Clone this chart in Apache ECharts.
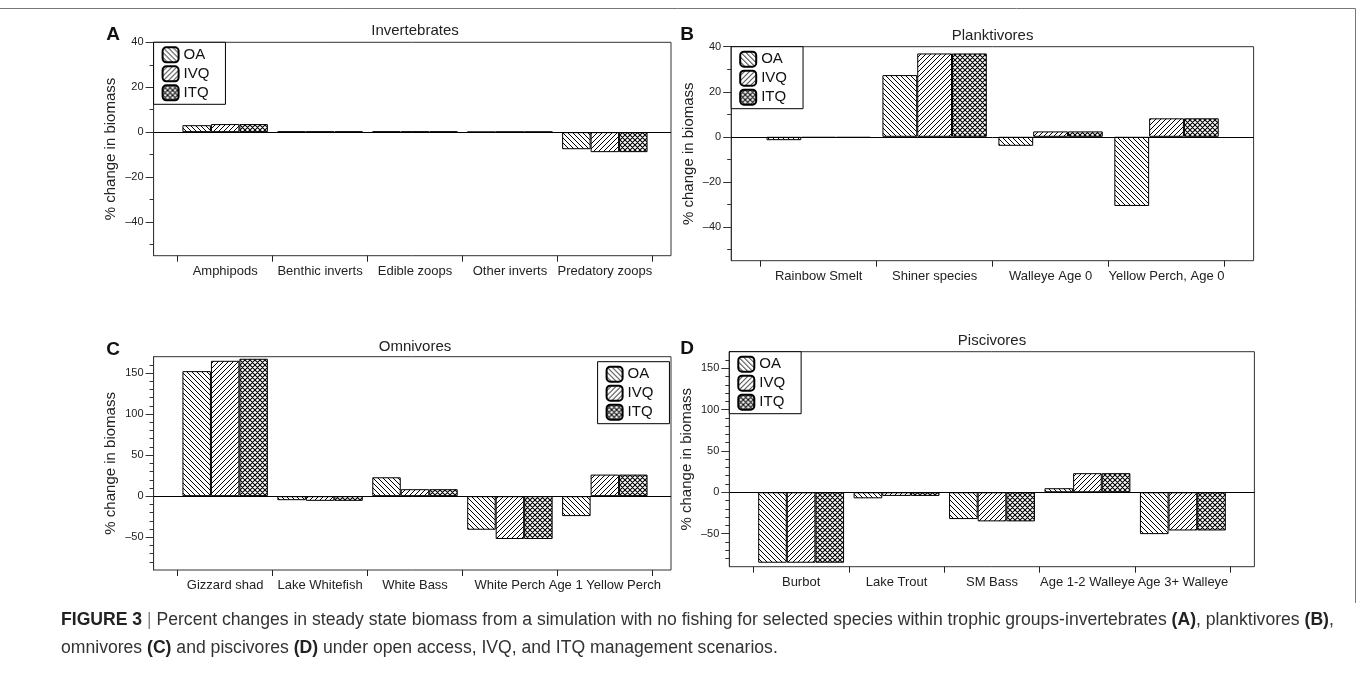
<!DOCTYPE html>
<html>
<head>
<meta charset="utf-8">
<script src="https://cdn.jsdelivr.net/npm/echarts@6/dist/echarts.min.js"></script>
<style>
  html, body { margin: 0; padding: 0; background: #fff; }
  #chart { width: 1358px; height: 681px; }
</style>
</head>
<body>
<div id="chart"></div>
<script>
// data
const seriesNames = ['OA', 'IVQ', 'ITQ'];

const catsA = ['Amphipods', 'Benthic inverts', 'Edible zoops', 'Other inverts', 'Predatory zoops'];
const oaA = [3.1, 0.3, 0.3, 0.1, -7.6];
const ivqA = [3.6, 0.3, 0.3, 0.2, -8.9];
const itqA = [3.6, 0.3, 0.3, 0.2, -8.9];

const catsB = ['Rainbow Smelt', 'Shiner species', 'Walleye Age 0', 'Yellow Perch, Age 0'];
const oaB = [-1.5, 27.4, -4.0, -30.7];
const ivqB = [-0.5, 37.0, 2.4, 8.2];
const itqB = [-0.5, 37.0, 2.4, 8.2];

const catsC = ['Gizzard shad', 'Lake Whitefish', 'White Bass', 'White Perch', 'Age 1 Yellow Perch'];
const oaC = [152.4, -4.9, 23.0, -40.9, -24.3];
const ivqC = [165.0, -5.7, 8.5, -52.2, 26.3];
const itqC = [167.5, -5.7, 8.5, -52.2, 26.3];

const catsD = ['Burbot', 'Lake Trout', 'SM Bass', 'Age 1-2 Walleye', 'Age 3+ Walleye'];
const oaD = [-85.2, -7.3, -32.4, 4.9, -50.6];
const ivqD = [-85.2, -4.4, -35.2, 23.1, -46.2];
const itqD = [-85.2, -4.4, -35.2, 23.1, -46.2];

// tick labels
const ticksAB = [-40, -20, 0, 20, 40];
const minorAB = [-50, -30, -10, 10, 30];
const ticksCD = [-50, 0, 50, 100, 150];
const minorCD = [-80, -70, -60, -40, -30, -20, -10, 10, 20, 30, 40, 60, 70, 80, 90, 110, 120, 130, 140, 160];

const FONT = '"Liberation Sans", Arial, Helvetica, sans-serif';

// hatch fills
function makeHatch(kind) {
  const s = 5;
  const c = document.createElement('canvas');
  c.width = s; c.height = s;
  const g = c.getContext('2d');
  g.fillStyle = '#fff';
  g.fillRect(0, 0, s, s);
  g.strokeStyle = '#000';
  g.lineWidth = kind === 'cross' ? 1.1 : 1;
  g.beginPath();
  if (kind === 'back' || kind === 'cross') {
    g.moveTo(-1, -1); g.lineTo(s + 1, s + 1);
    g.moveTo(-1, s - 1); g.lineTo(1, s + 1);
    g.moveTo(s - 1, -1); g.lineTo(s + 1, 1);
  }
  if (kind === 'fwd' || kind === 'cross') {
    g.moveTo(-1, s + 1); g.lineTo(s + 1, -1);
    g.moveTo(-1, 1); g.lineTo(1, -1);
    g.moveTo(s - 1, s + 1); g.lineTo(s + 1, s - 1);
  }
  g.stroke();
  return { image: c, repeat: 'repeat' };
}
const fills = [makeHatch('back'), makeHatch('fwd'), makeHatch('cross')];

// panel layout (pixels)
const panels = [
  { letter: 'A', title: 'Invertebrates', cats: catsA, vals: [oaA, ivqA, itqA],
    box: [153.6, 42.3, 671, 255.7], cat: [177.7, 652.3], min: -55, max: 40,
    ticks: ticksAB, minor: minorAB, letterPos: [113, 35], titleY: 31, legend: [153.6, 42.3] },
  { letter: 'B', title: 'Planktivores', cats: catsB, vals: [oaB, ivqB, itqB],
    box: [731.2, 46.7, 1253.6, 260.7], cat: [760.7, 1224.5], min: -55, max: 40,
    ticks: ticksAB, minor: minorAB, letterPos: [687, 35], titleY: 35.7, legend: [731.2, 46.7] },
  { letter: 'C', title: 'Omnivores', cats: catsC, vals: [oaC, ivqC, itqC],
    box: [153.6, 356.7, 671, 570], cat: [177.7, 652.3], min: -90, max: 170,
    ticks: ticksCD, minor: minorCD, letterPos: [113, 350], titleY: 346.7, legend: [597.6, 361.7] },
  { letter: 'D', title: 'Piscivores', cats: catsD, vals: [oaD, ivqD, itqD],
    box: [729.3, 351.7, 1254.4, 566.7], cat: [753.4, 1230.6], min: -90, max: 170,
    ticks: ticksCD, minor: minorCD, letterPos: [687, 349], titleY: 340.7, legend: [729.3, 351.7] }
];

const grid = [], xAxis = [], yAxis = [], series = [], legend = [], title = [], graphic = [];

panels.forEach((p, i) => {
  const [x0, y0, x1, y1] = p.box;
  // frame grid = the drawn box
  grid.push({ left: x0, top: y0, width: x1 - x0, height: y1 - y0,
    show: true, borderColor: '#333', borderWidth: 1 });
  // category grid = range between first and last tick
  grid.push({ left: p.cat[0], top: y0, width: p.cat[1] - p.cat[0], height: y1 - y0 });

  xAxis.push({ gridIndex: 2 * i, type: 'value', min: 0, max: 1, show: false });
  xAxis.push({
    gridIndex: 2 * i + 1, type: 'category', data: p.cats,
    axisLine: { show: false, onZero: false },
    axisTick: { show: true, length: 6, lineStyle: { color: '#222' } },
    axisLabel: { interval: 0, fontSize: 13, color: '#222', margin: 9, fontFamily: FONT },
    splitLine: { show: false }
  });

  yAxis.push({
    gridIndex: 2 * i, type: 'value', position: 'left', min: p.min, max: p.max,
    name: '% change in biomass', nameLocation: 'middle', nameGap: 35,
    nameTextStyle: { fontSize: 15, color: '#222', fontFamily: FONT },
    axisLine: { show: true, lineStyle: { color: '#333' } },
    axisTick: { show: true, length: 8, customValues: p.ticks, lineStyle: { color: '#333' } },
    axisLabel: { customValues: p.ticks, fontSize: 11, color: '#222', margin: 10, fontFamily: FONT,
      formatter: v => String(v).replace('-', '\u2013') },
    splitLine: { show: false }
  });
  // minor ticks
  yAxis.push({
    gridIndex: 2 * i, type: 'value', position: 'left', offset: 0, min: p.min, max: p.max,
    axisLine: { show: false }, axisLabel: { show: false }, splitLine: { show: false },
    axisTick: { show: true, length: 4, customValues: p.minor, lineStyle: { color: '#333' } }
  });
  yAxis.push({ gridIndex: 2 * i + 1, type: 'value', min: p.min, max: p.max, show: false });

  seriesNames.forEach((name, k) => {
    series.push({
      type: 'bar', name, xAxisIndex: 2 * i + 1, yAxisIndex: 3 * i + 2,
      data: p.vals[k], barGap: '0%', barCategoryGap: '10%',
      itemStyle: { color: fills[k], borderColor: '#000', borderWidth: 1 },
      emphasis: { disabled: true }
    });
  });
  // zero line across the whole box
  series.push({
    type: 'line', name: 'zero' + i, xAxisIndex: 2 * i, yAxisIndex: 3 * i, data: [], silent: true,
    markLine: { silent: true, symbol: ['none', 'none'], label: { show: false },
      lineStyle: { color: '#000', width: 1, type: 'solid' }, data: [{ yAxis: 0 }] }
  });

  legend.push({
    orient: 'vertical', left: p.legend[0], top: p.legend[1], data: seriesNames,
    icon: 'roundRect', itemWidth: 16, itemHeight: 15, itemGap: 2,
    padding: [4, 16, 3, 8], borderColor: '#000', borderWidth: 1, backgroundColor: '#fff',
    selectedMode: false,
    textStyle: { fontSize: 15, color: '#111', fontFamily: FONT, lineHeight: 15 }
  });

  title.push({
    text: p.title, left: (p.cat[0] + p.cat[1]) / 2, top: p.titleY - 9, textAlign: 'center', padding: 0,
    textStyle: { fontSize: 15, fontWeight: 'normal', color: '#222', fontFamily: FONT, lineHeight: 18 }
  });

  graphic.push({
    type: 'text', x: p.letterPos[0], y: p.letterPos[1],
    style: { text: p.letter, fontSize: 19, fontWeight: 'bold', fill: '#111', fontFamily: FONT,
      align: 'center', verticalAlign: 'middle' }
  });
});

// caption
title.push({
  text: '{b|FIGURE 3} {g||} Percent changes in steady state biomass from a simulation with no fishing for selected species within trophic groups-invertebrates {b|(A)}, planktivores {b|(B)},\nomnivores {b|(C)} and piscivores {b|(D)} under open access, IVQ, and ITQ management scenarios.',
  left: 61, top: 606, padding: 0,
  textStyle: { fontSize: 17.6, fontWeight: 'normal', color: '#333', fontFamily: FONT, lineHeight: 28,
    rich: { b: { fontSize: 17.6, fontWeight: 'bold', color: '#222', fontFamily: FONT, lineHeight: 28 },
            g: { fontSize: 17.6, color: '#888', fontFamily: FONT, lineHeight: 28 } } }
});

// figure frame (top and right edges)
graphic.push({ type: 'line', shape: { x1: 0, y1: 8.5, x2: 1355.5, y2: 8.5 }, style: { stroke: '#777', lineWidth: 1 } });
graphic.push({ type: 'line', shape: { x1: 1355.5, y1: 8.5, x2: 1355.5, y2: 603 }, style: { stroke: '#777', lineWidth: 1 } });

const chart = echarts.init(document.getElementById('chart'));
chart.setOption({
  animation: false,
  backgroundColor: '#fff',
  textStyle: { fontFamily: FONT },
  tooltip: { show: false },
  grid, xAxis, yAxis, series, legend, title, graphic
});
window.addEventListener('resize', () => chart.resize());
</script>
</body>
</html>
